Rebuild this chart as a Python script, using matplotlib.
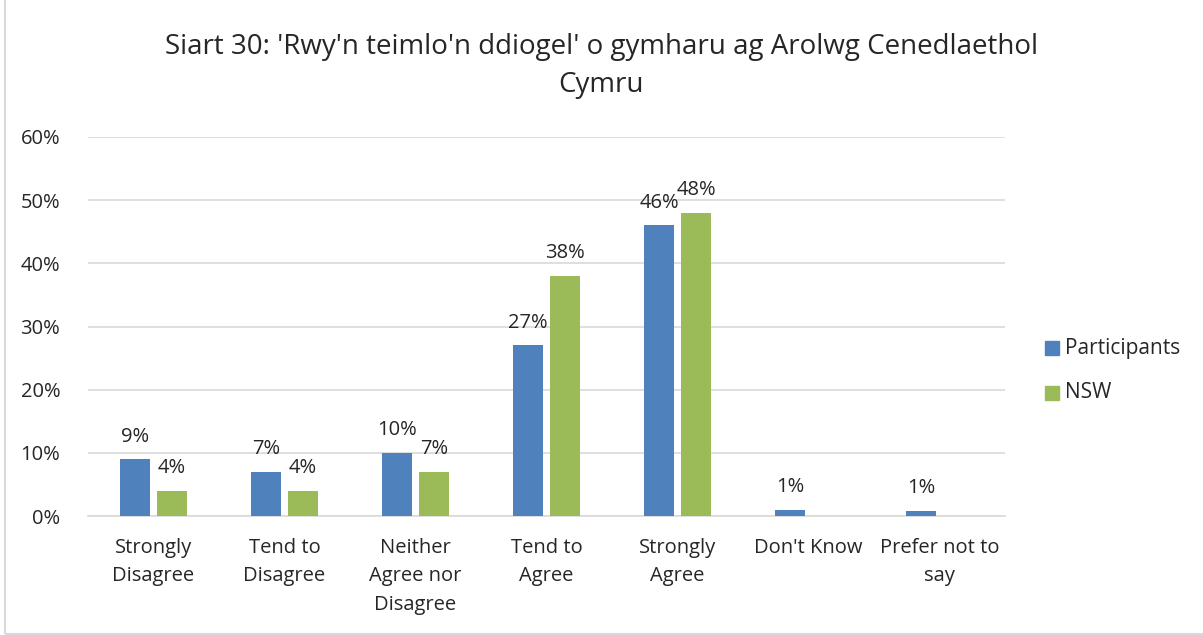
import matplotlib.pyplot as plt
import numpy as np
from matplotlib.patches import Rectangle

categories = ["Strongly\nDisagree", "Tend to\nDisagree", "Neither\nAgree nor\nDisagree",
              "Tend to\nAgree", "Strongly\nAgree", "Don't Know", "Prefer not to\nsay"]
participants = [9, 7, 10, 27, 46, 1, 0.8]
participants_labels = ["9%", "7%", "10%", "27%", "46%", "1%", "1%"]
nsw = [4, 4, 7, 38, 48, 0, 0]
nsw_labels = ["4%", "4%", "7%", "38%", "48%", "", ""]
yticks = [0, 10, 20, 30, 40, 50, 60]

blue = "#4F81BD"
green = "#9BBB59"
txt = "#262626"

plt.rcParams["font.family"] = ["Open Sans", "DejaVu Sans"]

fig = plt.figure(figsize=(12.03, 6.35), dpi=100)
ax = fig.add_axes([88 / 1203, 1 - 516 / 635, (1005 - 88) / 1203, (516 - 137) / 635])

x = np.arange(len(categories))
w = 0.23
off = 0.141
ax.bar(x - off, participants, w, color=blue, zorder=3)
ax.bar(x + off, nsw, w, color=green, zorder=3)

for i in range(len(categories)):
    ax.text(x[i] - off, participants[i] + 2.0, participants_labels[i], ha="center", va="bottom",
            fontsize=14.5, color=txt)
    if nsw_labels[i]:
        ax.text(x[i] + off, nsw[i] + 2.0, nsw_labels[i], ha="center", va="bottom",
                fontsize=14.5, color=txt)

ax.set_xlim(-0.5, len(categories) - 0.5)
ax.set_ylim(0, 60)
ax.set_yticks(yticks)
ax.set_yticklabels([f"{t}%" for t in yticks], fontsize=14.5, color=txt)
ax.set_xticks(x)
ax.set_xticklabels(categories, fontsize=14.5, color=txt, linespacing=1.55, va="top")
ax.tick_params(axis="both", length=0)
ax.tick_params(axis="y", pad=20)
ax.tick_params(axis="x", pad=16)
ax.grid(axis="y", color="#D9D9D9", linewidth=1.2, zorder=0)
for s in ["top", "right", "left"]:
    ax.spines[s].set_visible(False)
ax.spines["bottom"].set_color("#D9D9D9")
ax.spines["bottom"].set_linewidth(1.2)

fig.text(0.5, 1 - 66 / 635, "Siart 30: 'Rwy'n teimlo'n ddiogel' o gymharu ag Arolwg Cenedlaethol\nCymru",
         ha="center", va="center", fontsize=20, color=txt, linespacing=1.43)

# legend
for lab, col, yy in [("Participants", blue, 348), ("NSW", green, 393)]:
    fig.patches.append(Rectangle((1045 / 1203, 1 - (yy + 7) / 635), 14 / 1203, 14 / 635,
                                 transform=fig.transFigure, color=col))
    fig.text(1065 / 1203, 1 - yy / 635, lab, ha="left", va="center", fontsize=15, color=txt)

# outer border
fig.patches.append(Rectangle((5 / 1203, 1 / 635), 1.2, 1.2, transform=fig.transFigure,
                             fill=False, edgecolor="#D9D9D9", linewidth=1.5))

fig.savefig("out.png", dpi=100)
